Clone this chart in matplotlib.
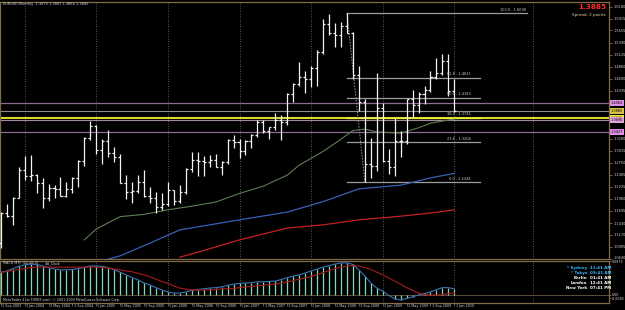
import matplotlib
matplotlib.use("Agg")
import matplotlib.pyplot as plt
from matplotlib.transforms import blended_transform_factory, ScaledTranslation

# ---------------- data ----------------
opens = [1.0985, 1.1650, 1.1580, 1.1990,
         1.2590, 1.2460, 1.2480, 1.2300, 1.1980, 1.2200, 1.2170, 1.2025, 1.2175, 1.2425, 1.2780, 1.3290,
         1.3560, 1.3030, 1.3230, 1.2970, 1.2870, 1.2310, 1.2100, 1.2125, 1.2340, 1.2025, 1.1990, 1.1790,
         1.1840, 1.2150, 1.1920, 1.2115, 1.2620, 1.2810, 1.2790, 1.2765, 1.2810, 1.2670, 1.2760, 1.3250,
         1.3200, 1.3020, 1.3230, 1.3355, 1.3650, 1.3450, 1.3540, 1.3680, 1.3640, 1.4260, 1.4480, 1.4630,
         1.4590, 1.4840, 1.5180, 1.5790, 1.5600, 1.5550, 1.5760, 1.5605, 1.4680, 1.4090, 1.2730, 1.2690,
         1.3960, 1.2800, 1.2660, 1.3240, 1.3230, 1.4150, 1.4030, 1.4250, 1.4340, 1.4640, 1.4720, 1.4990,
         1.4320]
highs = [1.1670, 1.1840, 1.2000, 1.2650,
         1.2900, 1.2930, 1.2500, 1.2410, 1.2280, 1.2270, 1.2435, 1.2335, 1.2435, 1.2810, 1.3310, 1.3665,
         1.3580, 1.3280, 1.3480, 1.3090, 1.2935, 1.2480, 1.2320, 1.2480, 1.2590, 1.2215, 1.2100, 1.2090,
         1.2325, 1.2165, 1.2275, 1.2640, 1.2980, 1.2980, 1.2910, 1.2915, 1.2945, 1.2780, 1.3280, 1.3370,
         1.3270, 1.3245, 1.3375, 1.3680, 1.3680, 1.3540, 1.3850, 1.3790, 1.4280, 1.4500, 1.4965, 1.4760,
         1.4880, 1.5220, 1.5905, 1.6020, 1.5820, 1.5845, 1.6038, 1.5620, 1.4865, 1.4155, 1.3300, 1.4720,
         1.4060, 1.3060, 1.3740, 1.3460, 1.4160, 1.4340, 1.4300, 1.4445, 1.4765, 1.5060, 1.5145, 1.5145,
         1.4580]
lows = [1.0880, 1.1565, 1.1380, 1.1970,
        1.2385, 1.2350, 1.2085, 1.1760, 1.1905, 1.1990, 1.2020, 1.1995, 1.2085, 1.2230, 1.2685, 1.3260,
        1.2940, 1.2730, 1.2880, 1.2760, 1.2300, 1.1950, 1.1870, 1.2090, 1.2000, 1.1870, 1.1640, 1.1710,
        1.1800, 1.1825, 1.1860, 1.2060, 1.2560, 1.2455, 1.2455, 1.2665, 1.2655, 1.2485, 1.2730, 1.3070,
        1.2865, 1.2930, 1.3070, 1.3310, 1.3400, 1.3270, 1.3480, 1.3260, 1.3580, 1.4080, 1.4440, 1.4280,
        1.4420, 1.4440, 1.5140, 1.5560, 1.5285, 1.5300, 1.5590, 1.4580, 1.3880, 1.2330, 1.2420, 1.2580,
        1.2760, 1.2510, 1.2455, 1.2885, 1.3170, 1.3745, 1.3850, 1.4045, 1.4305, 1.4580, 1.4670, 1.4220,
        1.3865]
closes = [1.1650, 1.1580, 1.1990, 1.2590,
          1.2460, 1.2480, 1.2300, 1.1980, 1.2200, 1.2170, 1.2025, 1.2175, 1.2425, 1.2780, 1.3290, 1.3560,
          1.3030, 1.3230, 1.2970, 1.2870, 1.2310, 1.2100, 1.2125, 1.2340, 1.2025, 1.1990, 1.1790, 1.1840,
          1.2150, 1.1920, 1.2115, 1.2620, 1.2810, 1.2790, 1.2765, 1.2810, 1.2670, 1.2760, 1.3250, 1.3200,
          1.3020, 1.3230, 1.3355, 1.3650, 1.3450, 1.3540, 1.3680, 1.3640, 1.4260, 1.4480, 1.4630, 1.4590,
          1.4840, 1.5180, 1.5790, 1.5600, 1.5550, 1.5760, 1.5605, 1.4680, 1.4090, 1.2730, 1.2690, 1.3960,
          1.2800, 1.2660, 1.3240, 1.3230, 1.4150, 1.4030, 1.4250, 1.4340, 1.4640, 1.4720, 1.4990, 1.4320,
          1.3885]

# moving averages (bar index, price)
ma_green_idx = [14, 16, 20, 24, 28, 32, 36, 40, 44, 48, 50, 54, 57, 59, 61, 63, 67, 70, 72, 75, 76]
ma_green_val = [1.106, 1.130, 1.157, 1.162, 1.172, 1.180, 1.189, 1.208, 1.224, 1.248, 1.270, 1.300,
                1.327, 1.346, 1.349, 1.343, 1.340, 1.352, 1.362, 1.369, 1.371]
ma_blue_idx = [17, 20, 25, 30, 35, 40, 48, 54, 60, 67, 72, 76]
ma_blue_val = [1.060, 1.071, 1.099, 1.128, 1.139, 1.150, 1.167, 1.190, 1.218, 1.226, 1.242, 1.252]
ma_red_idx = [30, 33, 40, 48, 54, 60, 67, 72, 76]
ma_red_val = [1.068, 1.079, 1.106, 1.132, 1.139, 1.150, 1.158, 1.165, 1.172]

# MACD
macd_hist = [0.059, 0.062, 0.068, 0.074, 0.078, 0.080, 0.079, 0.075, 0.071, 0.067,
             0.065, 0.065, 0.066, 0.068, 0.072, 0.075, 0.075, 0.074, 0.071, 0.065,
             0.059, 0.052, 0.045, 0.039, 0.031, 0.026, 0.019, 0.013, 0.008, 0.005,
             0.005, 0.008, 0.012, 0.014, 0.016, 0.018, 0.019, 0.021, 0.025, 0.028,
             0.030, 0.031, 0.032, 0.034, 0.034, 0.035, 0.036, 0.040, 0.045, 0.049,
             0.052, 0.057, 0.062, 0.067, 0.072, 0.076, 0.080, 0.083, 0.083, 0.079,
             0.065, 0.049, 0.031, 0.018, 0.010, -0.001, -0.010, -0.013, -0.009, -0.005,
             0.000, 0.004, 0.008, 0.014, 0.019, 0.019, 0.016]
macd_signal = [0.058, 0.061, 0.063, 0.066, 0.068, 0.071, 0.072, 0.072, 0.072, 0.072,
               0.072, 0.072, 0.072, 0.072, 0.072, 0.072, 0.072, 0.071, 0.070, 0.067,
               0.065, 0.062, 0.060, 0.056, 0.052, 0.047, 0.041, 0.035, 0.030, 0.023,
               0.018, 0.015, 0.013, 0.013, 0.013, 0.013, 0.014, 0.016, 0.016, 0.017,
               0.019, 0.021, 0.022, 0.024, 0.025, 0.027, 0.028, 0.031, 0.034, 0.037,
               0.041, 0.044, 0.048, 0.053, 0.058, 0.063, 0.068, 0.072, 0.075, 0.076,
               0.075, 0.071, 0.066, 0.059, 0.052, 0.044, 0.036, 0.028, 0.019, 0.012,
               0.005, 0.001, 0.000, 0.000, 0.001, 0.004, 0.005]

# Fibonacci retracement (Jul 2008 high -> Oct 2008 low)
fib_start_idx, fib_end_idx = 58, 61
fib_prices = [1.2328, 1.3204, 1.3745, 1.4183, 1.4621, 1.6038]
fib_labels = ["0.0 - 1.2328", "23.6 - 1.3204", "38.2 - 1.3745", "50.0 - 1.4183",
              "61.8 - 1.4621", "100.0 - 1.6038"]

# horizontal lines
hl_purple = [1.4064, 1.3427]
hl_lilac = [1.3690]
hl_yellow = [1.3745]
bid_price = 1.3885
price_boxes = [("1.4064", 1.4064, "#e08ee6"), ("1.3885", 1.3885, "#d8c24a"),
               ("1.3745", 1.3745, "#f2f23a"), ("1.3690", 1.3690, "#e0a0d8"),
               ("1.3427", 1.3427, "#e08ee6")]

price_ticks = [1.6180, 1.5915, 1.5655, 1.5390, 1.5125, 1.4860, 1.4600, 1.4335,
               1.3280, 1.3015, 1.2750, 1.2485, 1.2225, 1.1960, 1.1695,
               1.1430, 1.1170, 1.0905, 1.0640]
macd_ticks = [0.0879, 0.0, -0.0086]
macd_tick_labels = ["0.0879", "0.00", "-0.0086"]

date_idx = list(range(0, 77, 4))
date_labels = ["1 Sep 2003", "1 Jan 2004", "1 May 2004", "1 Sep 2004", "1 Jan 2005",
               "1 May 2005", "1 Sep 2005", "1 Jan 2006", "1 May 2006", "1 Sep 2006",
               "1 Jan 2007", "1 May 2007", "1 Sep 2007", "1 Jan 2008", "1 May 2008",
               "1 Sep 2008", "1 Jan 2009", "1 May 2009", "1 Sep 2009", "1 Jan 2010"]
grid_idx = [4, 16, 28, 40, 52, 64, 76, 89.2]

clock_names = ["* Sydney", "* Tokyo", "Berlin", "London", "New York"]
clock_times = ["11:41 AM", "09:41 AM", "01:41 AM", "12:41 AM", "07:41 PM"]
clock_colors = ["#3cb4ff", "#3cb4ff", "#ffffff", "#ffffff", "#ffffff"]

# ---------------- layout ----------------
W, H = 625, 310
PX_PER_BAR = 5.968
X0 = 0.8
P_TOP, PY_TOP = 1.6038, 13.0
PX_PER_PRICE = 455.8
MACD_ZERO_PY = 295.0
MACD_PER_PX = 0.002585

def bar_at(px):
    return (px - X0) / PX_PER_BAR

def price_at(py):
    return P_TOP - (py - PY_TOP) / PX_PER_PRICE

def macd_at(py):
    return (MACD_ZERO_PY - py) * MACD_PER_PX

FRAME = "#806c48"
GRID = "#7a7262"
TXT = "#d4d4d4"

fig = plt.figure(figsize=(W / 100, H / 100), dpi=100, facecolor="black")

def fx(px):
    return px / W

def fy(py):
    return 1 - py / H

R_PX = 609
main_top, main_bot = 2, 259.1
ax = fig.add_axes([0, fy(main_bot), fx(R_PX), (main_bot - main_top) / H])
macd_top, macd_bot = 260.5, 302.5
ax2 = fig.add_axes([0, fy(macd_bot), fx(R_PX), (macd_bot - macd_top) / H])

for a in (ax, ax2):
    a.set_facecolor("black")
    a.set_xlim(bar_at(0), bar_at(R_PX))
    for s in a.spines.values():
        s.set_color(FRAME)
        s.set_linewidth(0.9)
    for g in grid_idx:
        a.axvline(g, color=GRID, lw=0.6, ls=(0, (1, 2)), zorder=0)

ax.set_ylim(price_at(main_bot), price_at(main_top))
ax2.set_ylim(macd_at(macd_bot), macd_at(macd_top))

# ---- main panel ----
idx = list(range(len(opens)))
ax.vlines(idx, lows, highs, color="#f2f2f2", lw=0.9, zorder=5)
ax.hlines(opens, [i - 0.34 for i in idx], idx, color="#f2f2f2", lw=0.9, zorder=5)
ax.hlines(closes, idx, [i + 0.34 for i in idx], color="#f2f2f2", lw=0.9, zorder=5)

ax.plot(ma_green_idx, ma_green_val, color="#5e7d52", lw=0.8, zorder=3)
ax.plot(ma_blue_idx, ma_blue_val, color="#3a5fb4", lw=0.9, zorder=3)
ax.plot(ma_red_idx, ma_red_val, color="#c42222", lw=0.9, zorder=3)

for p in hl_purple:
    ax.axhline(p, color="#8c6c8c", lw=0.9, zorder=2)
for p in hl_lilac:
    ax.axhline(p, color="#a08ca0", lw=0.8, zorder=2)
ax.axhline(bid_price, color="#8a8a8a", lw=0.8, zorder=2)
for p in hl_yellow:
    ax.axhline(p, color="#d8d830", lw=1.5, zorder=2)

fib_line_end = bar_at(480)
fib_text_end = bar_at(471)
for p, lab in zip(fib_prices, fib_labels):
    if lab.startswith("100"):
        xe, xt = bar_at(527), bar_at(526)
    else:
        xe, xt = fib_line_end, fib_text_end
    col = "#f0f040" if p == 1.3745 else "#9c9c9c"
    ax.plot([fib_start_idx, xe], [p, p], color=col, lw=0.9, zorder=2)
    ax.text(xt, p + 1.2 / PX_PER_PRICE, lab, color=TXT, fontsize=2.5,
            ha="right", va="bottom", zorder=6)
ax.plot([fib_start_idx, fib_end_idx], [fib_prices[-1], fib_prices[0]],
        color="#9c9c9c", lw=0.7, ls=(0, (1.5, 1.5)), zorder=2)

ax.set_xticks([])
ax.yaxis.tick_right()
ax.set_yticks(price_ticks)
ax.set_yticklabels([f"{t:.4f}" for t in price_ticks])
ax.tick_params(axis="y", colors=FRAME, labelcolor=TXT, labelsize=2.5,
               length=2, width=0.6, pad=1)
up = ScaledTranslation(0, 1.8 / 100, fig.dpi_scale_trans)
for t in ax.get_yticklabels():
    if t.get_text() == "1.0640":
        t.set_transform(t.get_transform() + up)

tr = blended_transform_factory(fig.transFigure, ax.transData)
for lab, p, c in price_boxes:
    ax.text(fx(611), p, lab, transform=tr, fontsize=2.5, color="black",
            ha="left", va="center", clip_on=False, zorder=10,
            bbox=dict(boxstyle="square,pad=0.2", fc=c, ec="none"))

# ---- MACD panel ----
ax2.vlines(idx, 0, macd_hist, color="#86d6b8", lw=0.9, zorder=3)
ax2.plot(idx, macd_hist, color="#3c74b8", lw=0.8, zorder=4)
ax2.plot(idx, macd_signal, color="#a81c1c", lw=0.8, zorder=4)
ax2.axhline(0, color="#6a5a3e", lw=0.6, zorder=2)

ax2.yaxis.tick_right()
ax2.set_yticks(macd_ticks)
ax2.set_yticklabels(macd_tick_labels)
ax2.tick_params(axis="y", colors=FRAME, labelcolor=TXT, labelsize=2.3,
                length=1.5, width=0.6, pad=0.5)
down = ScaledTranslation(0, -0.8 / 100, fig.dpi_scale_trans)
for t in ax2.get_yticklabels():
    if t.get_text() == "0.0879":
        t.set_transform(t.get_transform() + down)
ax2.set_xticks(date_idx)
ax2.set_xticklabels(date_labels)
ax2.tick_params(axis="x", colors=FRAME, labelcolor=TXT, labelsize=2.4,
                length=2.2, width=0.6, pad=0)
off = ScaledTranslation(1.2 / 100, 1.2 / 100, fig.dpi_scale_trans)
for t in ax2.get_xticklabels():
    t.set_ha("left")
    t.set_transform(t.get_transform() + off)

# ---- texts ----
fig.text(fx(3), fy(4.5), "EURUSD,Monthly  1.3875 1.3887 1.3866 1.3885",
         color=TXT, fontsize=2.5, ha="left", va="center")
fig.text(fx(606), fy(7), "1.3885", color="#ff2a2a", fontsize=5.2,
         fontweight="bold", ha="right", va="center")
fig.text(fx(606), fy(15), "Spread: 2 points", color="#e6cf9c", fontsize=3.0,
         ha="right", va="center")
fig.text(fx(3), fy(263), "MACD MTF (12,26,9)", color=TXT, fontsize=2.4,
         ha="left", va="center")
fig.text(fx(45), fy(263), "#4_Clock", color=TXT, fontsize=2.4,
         ha="left", va="center")
fig.text(fx(3), fy(299.5),
         "MetaTrader 4 (at FOREX.com), \u00a9 2001-2009 MetaQuotes Software Corp.",
         color=TXT, fontsize=2.35, ha="left", va="center")
for k, (nm, tm, c) in enumerate(zip(clock_names, clock_times, clock_colors)):
    yy = 268 + 5 * k
    fig.text(fx(587), fy(yy), nm, color=c, fontsize=2.9, fontweight="bold",
             ha="right", va="center")
    fig.text(fx(590), fy(yy), tm, color=c, fontsize=2.9, fontweight="bold",
             ha="left", va="center")

fig.savefig("out.png", dpi=100, facecolor="black")
